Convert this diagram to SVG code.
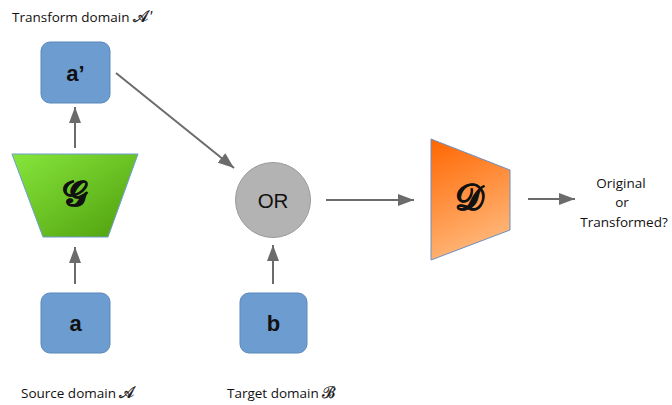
<svg xmlns="http://www.w3.org/2000/svg" width="672" height="405" viewBox="0 0 672 405">
<defs>
<linearGradient id="gG" x1="0" y1="0" x2="1" y2="1">
<stop offset="0" stop-color="#86e63c"/>
<stop offset="1" stop-color="#4f9e0c"/>
</linearGradient>
<linearGradient id="gD" x1="0" y1="0" x2="0.3" y2="1">
<stop offset="0" stop-color="#ff6600"/>
<stop offset="1" stop-color="#ffb678"/>
</linearGradient>
<marker id="arr" viewBox="0 0 16 12" refX="16" refY="6" markerWidth="16" markerHeight="12" orient="auto" markerUnits="userSpaceOnUse">
<path d="M0,0 L16,6 L0,12 z" fill="#6b6b6b"/>
</marker>
</defs>
<style>
.box{fill:#6d9dd0;stroke:#5b87ba;stroke-width:1}
.lbl{font-family:"Liberation Sans",Arial,sans-serif;font-weight:bold;font-size:22px;fill:#111;text-anchor:middle}
.cap{font-family:"Open Sans","Noto Sans",sans-serif;font-size:13.5px;fill:#111}
.con{stroke:#6b6b6b;stroke-width:2;fill:none}
.math{font-family:"DejaVu Serif","Noto Sans",serif;font-weight:bold;font-size:36px;fill:#111;text-anchor:middle;stroke:#111;stroke-width:0.6}
.mcap{font-family:"DejaVu Serif",serif;font-size:16px;stroke:#111;stroke-width:0.3}
</style>
<rect width="672" height="405" fill="#fff"/>
<text class="cap" x="12" y="22">Transform domain <tspan class="mcap">𝒜</tspan><tspan dx="2" dy="-1" font-family="Liberation Sans,sans-serif" font-size="15">′</tspan></text>
<text class="cap" x="21" y="398">Source domain <tspan class="mcap">𝒜</tspan></text>
<text class="cap" x="227" y="398">Target domain <tspan class="mcap">ℬ</tspan></text>
<g id="connectors">
<line class="con" x1="75" y1="148" x2="75" y2="107" marker-end="url(#arr)"/>
<line class="con" x1="75" y1="284" x2="75" y2="247" marker-end="url(#arr)"/>
<line class="con" x1="273" y1="284" x2="273" y2="245" marker-end="url(#arr)"/>
<line class="con" x1="116" y1="73" x2="234" y2="168" marker-end="url(#arr)"/>
<line class="con" x1="326" y1="200" x2="414" y2="200" marker-end="url(#arr)"/>
<line class="con" x1="528" y1="199" x2="575" y2="199" marker-end="url(#arr)"/>
</g>
<g id="node-aprime">
<rect class="box" x="41" y="42" width="69" height="61" rx="9"/>
<text class="lbl" x="75.5" y="81">a’</text>
</g>
<g id="node-G">
<polygon points="12,154 138,154 108,237 43,237" fill="url(#gG)" stroke="#6d9dd0" stroke-width="1"/>
<text class="math" x="75" y="206">𝒢</text>
</g>
<g id="node-a">
<rect class="box" x="41" y="293" width="69" height="60" rx="9"/>
<text class="lbl" x="75.5" y="331">a</text>
</g>
<g id="node-b">
<rect class="box" x="240" y="293" width="67" height="60" rx="9"/>
<text class="lbl" x="273.5" y="331">b</text>
</g>
<g id="node-OR">
<circle cx="273" cy="200" r="37.5" fill="#b3b3b3" stroke="#9a9a9a" stroke-width="1"/>
<text x="273" y="207.5" font-family="Liberation Sans,Arial,sans-serif" font-size="20.5" fill="#111" text-anchor="middle">OR</text>
</g>
<g id="node-D">
<polygon points="431,139 510,170 510,230 431,260" fill="url(#gD)" stroke="#6d8fc0" stroke-width="1"/>
<text class="math" x="469" y="210">𝒟</text>
</g>
<g id="output-label">
<text class="cap" x="621" y="188" text-anchor="middle">Original</text>
<text class="cap" x="622" y="207" text-anchor="middle">or</text>
<text class="cap" x="624" y="227" text-anchor="middle">Transformed?</text>
</g>
</svg>
